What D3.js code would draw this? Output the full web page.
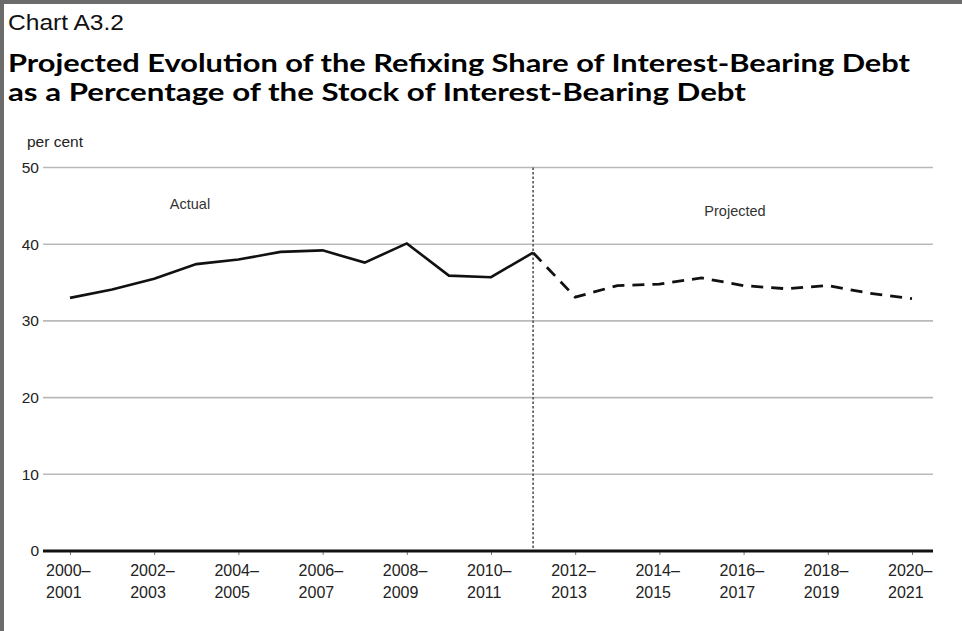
<!DOCTYPE html>
<html>
<head>
<meta charset="utf-8">
<script src="https://cdn.jsdelivr.net/npm/d3@7"></script>
<style>
  html, body { margin: 0; padding: 0; background: #fff; }
  svg { display: block; }
</style>
</head>
<body>
<svg id="chart" width="962" height="631"></svg>
<script>
// ---- Data ----
const categories = ["2000–2001","2001–2002","2002–2003","2003–2004","2004–2005","2005–2006","2006–2007",
  "2007–2008","2008–2009","2009–2010","2010–2011","2011–2012","2012–2013","2013–2014","2014–2015",
  "2015–2016","2016–2017","2017–2018","2018–2019","2019–2020","2020–2021"];
const actualCats = categories.slice(0, 12);
const actualValues = [33.0, 34.1, 35.5, 37.4, 38.0, 39.0, 39.2, 37.6, 40.1, 35.9, 35.7, 38.9];
const projectedCats = categories.slice(11);
const projectedValues = [38.9, 33.1, 34.6, 34.8, 35.6, 34.6, 34.2, 34.6, 33.6, 32.9];
const tickCats = ["2000–2001","2002–2003","2004–2005","2006–2007","2008–2009","2010–2011",
  "2012–2013","2014–2015","2016–2017","2018–2019","2020–2021"];
const yTicks = [0, 10, 20, 30, 40, 50];
const splitCat = "2011–2012";

const svg = d3.select("#chart");
const W = 962, H = 631;

// frame
svg.append("rect").attr("x", 0).attr("y", 0).attr("width", W).attr("height", 4).attr("fill", "#6b6b6b");
svg.append("rect").attr("x", 0).attr("y", 0).attr("width", 4).attr("height", H).attr("fill", "#6b6b6b");

// titles
svg.append("text").attr("x", 8).attr("y", 30)
  .attr("font-family", "Liberation Sans, Arial, sans-serif").attr("font-size", 22)
  .attr("fill", "#111").attr("textLength", 116).attr("lengthAdjust", "spacingAndGlyphs")
  .text("Chart A3.2");
svg.append("text").attr("x", 8).attr("y", 72)
  .attr("font-family", "Lato, sans-serif").attr("font-weight", 700).attr("font-size", 24)
  .attr("fill", "#000").attr("textLength", 902).attr("lengthAdjust", "spacingAndGlyphs")
  .text("Projected Evolution of the Refixing Share of Interest-Bearing Debt");
svg.append("text").attr("x", 8).attr("y", 101)
  .attr("font-family", "Lato, sans-serif").attr("font-weight", 700).attr("font-size", 24)
  .attr("fill", "#000").attr("textLength", 738).attr("lengthAdjust", "spacingAndGlyphs")
  .text("as a Percentage of the Stock of Interest-Bearing Debt");

// scales
const x = d3.scalePoint().domain(categories).range([70, 912]);
const y = d3.scaleLinear().domain([0, 50]).range([551, 167.5]);
const left = 43, right = 933;

// y unit label
svg.append("text").attr("x", 27).attr("y", 147)
  .attr("font-family", "Liberation Sans, Arial, sans-serif").attr("font-size", 15.5)
  .attr("fill", "#222").text("per cent");

// gridlines
svg.append("g").selectAll("line").data(yTicks.filter(d => d > 0)).join("line")
  .attr("x1", left).attr("x2", right)
  .attr("y1", d => y(d)).attr("y2", d => y(d))
  .attr("stroke", "#b9b9b9").attr("stroke-width", 1.6);

// y axis labels
const yAxis = d3.axisLeft(y).tickValues(yTicks).tickSize(0).tickPadding(0);
const gy = svg.append("g").attr("transform", `translate(${left - 4},0)`).call(yAxis);
gy.select(".domain").remove();
gy.selectAll("text").attr("font-family", "Liberation Sans, Arial, sans-serif")
  .attr("font-size", 15.5).attr("fill", "#222");

// vertical dotted separator
svg.append("line")
  .attr("x1", x(splitCat)).attr("x2", x(splitCat))
  .attr("y1", y(50)).attr("y2", y(0))
  .attr("stroke", "#555").attr("stroke-width", 1.6).attr("stroke-dasharray", "2.5,2");

// x axis
const xAxis = d3.axisBottom(x).tickValues(tickCats).tickSize(4).tickFormat("");
const gx = svg.append("g").attr("transform", `translate(0,${y(0)})`).call(xAxis);
gx.select(".domain").remove();
gx.selectAll(".tick line").attr("stroke", "#777").attr("stroke-width", 1);
svg.append("line").attr("x1", left).attr("x2", right).attr("y1", y(0)).attr("y2", y(0))
  .attr("stroke", "#111").attr("stroke-width", 3.2);

// x tick labels (two lines)
const lab = svg.append("g").selectAll("text").data(tickCats).join("text")
  .attr("font-family", "Liberation Sans, Arial, sans-serif").attr("font-size", 16)
  .attr("fill", "#222");
lab.append("tspan").attr("x", d => x(d) - 24).attr("y", 576).text(d => d.split("–")[0] + "–");
lab.append("tspan").attr("x", d => x(d) - 24).attr("y", 598).text(d => d.split("–")[1]);

// region labels
svg.append("text").attr("x", 190).attr("y", 209).attr("text-anchor", "middle")
  .attr("font-family", "Liberation Sans, Arial, sans-serif").attr("font-size", 14.5)
  .attr("fill", "#333").text("Actual");
svg.append("text").attr("x", 735).attr("y", 216).attr("text-anchor", "middle")
  .attr("font-family", "Liberation Sans, Arial, sans-serif").attr("font-size", 14.5)
  .attr("fill", "#333").text("Projected");

// lines
const line = d3.line().x(d => x(d[0])).y(d => y(d[1]));
svg.append("path").datum(d3.zip(actualCats, actualValues))
  .attr("d", line).attr("fill", "none").attr("stroke", "#111")
  .attr("stroke-width", 2.6).attr("stroke-linejoin", "miter");
svg.append("path").datum(d3.zip(projectedCats, projectedValues))
  .attr("d", line).attr("fill", "none").attr("stroke", "#111")
  .attr("stroke-width", 2.8).attr("stroke-dasharray", "12,8");
</script>
</body>
</html>
